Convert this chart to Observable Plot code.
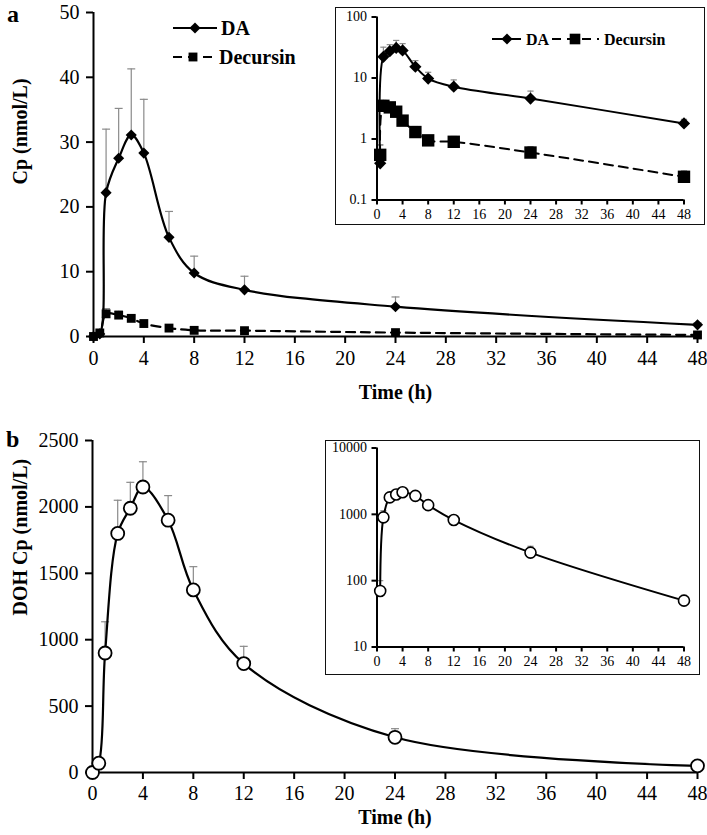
<!DOCTYPE html>
<html><head><meta charset="utf-8">
<script src="https://cdn.jsdelivr.net/npm/d3@7"></script>
<script src="https://cdn.jsdelivr.net/npm/@observablehq/plot@0.6"></script>
<style>
body{margin:0;background:#fff;}
#root{position:relative;width:707px;height:835px;font-family:"Liberation Serif","Times New Roman",serif;overflow:hidden;background:#fff;}
.inset{position:absolute;background:#fff;border:1.5px solid #111;box-sizing:border-box;}
</style></head><body><div id="root"></div>
<script>
// ---- data ----
const times    = [0, 0.5, 1, 2, 3, 4, 6, 8, 12, 24, 48];
const daMean   = [0, 0.4, 22.2, 27.5, 31.1, 28.3, 15.3, 9.8, 7.2, 4.6, 1.8];
const daUpper  = [0, 0.8, 32.0, 35.2, 41.3, 36.6, 19.3, 12.4, 9.3, 6.1, 2.1];
const decMean  = [0, 0.55, 3.5, 3.3, 2.8, 2.0, 1.3, 0.95, 0.9, 0.6, 0.24];
const decUpper = [0, 0.8, 4.3, 3.9, 3.2, 2.3, 1.6, 1.1, 1.1, 0.75, 0.3];
const dohMean  = [0, 70, 900, 1800, 1990, 2150, 1900, 1375, 820, 265, 50];
const dohUpper = [0, 100, 1135, 2050, 2185, 2340, 2085, 1550, 950, 330, 60];
const xTicks   = [0, 4, 8, 12, 16, 20, 24, 28, 32, 36, 40, 44, 48];
const yTicksA  = [0, 10, 20, 30, 40, 50];
const yTicksB  = [0, 500, 1000, 1500, 2000, 2500];
const logTicksA = [0.1, 1, 10, 100];
const logTicksB = [10, 100, 1000, 10000];
const seriesNames = ["DA", "Decursin"];
const xLabel = "Time (h)";
const yLabelA = "Cp (nmol/L)";
const yLabelB = "DOH Cp (nmol/L)";

const rows = (m, u) => times.map((t, i) => ({t, mean: m[i], upper: u[i]}));
const rDA = rows(daMean, daUpper), rDec = rows(decMean, decUpper), rDOH = rows(dohMean, dohUpper);
const pos = d => d.mean > 0;
const plain = d => String(d);

const capSymbol = {draw(ctx, size) { const w = Math.sqrt(size) / 2; ctx.moveTo(-w, 0); ctx.lineTo(w, 0); }};
const errBars = (data, capR = 4.5) => [
  Plot.ruleX(data, {x: "t", y1: "mean", y2: "upper", stroke: "#8a8a8a", strokeWidth: 1.2}),
  Plot.dot(data, {x: "t", y: "upper", symbol: capSymbol, r: capR, fill: "none", stroke: "#8a8a8a", strokeWidth: 1.2})
];
const serif = '"Liberation Serif", "Times New Roman", serif';
const root = document.getElementById("root");
function place(node, left, top) { node.style.position = "absolute"; node.style.left = left + "px"; node.style.top = top + "px"; return node; }

// ---- panel a main ----
const plotA = Plot.plot({
  width: 707, height: 420, marginLeft: 93, marginRight: 10, marginTop: 12, marginBottom: 84,
  style: {fontFamily: serif, fontSize: "20px", color: "#000", background: "transparent", overflow: "visible"},
  x: {domain: [0, 48]}, y: {domain: [0, 50]},
  marks: [
    Plot.axisX({ticks: xTicks, tickFormat: plain, tickSize: 7, tickPadding: 7, strokeWidth: 2, label: null}),
    Plot.axisY({ticks: yTicksA, tickFormat: plain, tickSize: 7, tickPadding: 7, strokeWidth: 2, label: null}),
    ...errBars(rDA.filter(pos)), ...errBars(rDec.filter(pos)),
    Plot.line(rDec, {x: "t", y: "mean", curve: "catmull-rom", strokeWidth: 2.2, strokeDasharray: "9,6"}),
    Plot.line(rDA, {x: "t", y: "mean", curve: "catmull-rom", strokeWidth: 2.2}),
    Plot.ruleX([0], {strokeWidth: 2}),
    Plot.ruleY([0], {strokeWidth: 2}),
    Plot.dot(rDec, {x: "t", y: "mean", symbol: "square", r: 5, fill: "#000", stroke: "none"}),
    Plot.dot(rDA, {x: "t", y: "mean", symbol: "diamond2", r: 5, fill: "#000", stroke: "none"}),
    Plot.text([xLabel], {text: d => d, frameAnchor: "bottom", dy: 62, fontWeight: "bold", fontSize: 20}),
    Plot.text([yLabelA], {text: d => d, frameAnchor: "left", dx: -73, dy: 10, rotate: -90, fontWeight: "bold", fontSize: 20})
  ]
});
root.appendChild(place(plotA, 0, 0));

// ---- panel b main ----
const plotB = Plot.plot({
  width: 707, height: 415, marginLeft: 92, marginRight: 10, marginTop: 20, marginBottom: 63,
  style: {fontFamily: serif, fontSize: "20px", color: "#000", background: "transparent", overflow: "visible"},
  x: {domain: [0, 48]}, y: {domain: [0, 2500]},
  marks: [
    Plot.axisX({ticks: xTicks, tickFormat: plain, tickSize: 7, tickPadding: 6, strokeWidth: 2, label: null}),
    Plot.axisY({ticks: yTicksB, tickFormat: plain, tickSize: 7, tickPadding: 7, strokeWidth: 2, label: null}),
    ...errBars(rDOH.filter(pos)),
    Plot.line(rDOH, {x: "t", y: "mean", curve: "catmull-rom", strokeWidth: 2.2}),
    Plot.ruleX([0], {strokeWidth: 2}),
    Plot.ruleY([0], {strokeWidth: 2}),
    Plot.dot(rDOH, {x: "t", y: "mean", r: 6.5, fill: "#fff", stroke: "#000", strokeWidth: 1.8}),
    Plot.text([xLabel], {text: d => d, frameAnchor: "bottom", dy: 51, fontWeight: "bold", fontSize: 20}),
    Plot.text([yLabelB], {text: d => d, frameAnchor: "left", dx: -72, dy: 9, rotate: -90, fontWeight: "bold", fontSize: 20})
  ]
});
root.appendChild(place(plotB, 0, 420));

// ---- inset a ----
const boxA = place(document.createElement("div"), 335, 7);
boxA.className = "inset"; boxA.style.width = "370px"; boxA.style.height = "218px";
const insetA = Plot.plot({
  width: 367, height: 215, marginLeft: 40.5, marginRight: 19.5, marginTop: 8.5, marginBottom: 23.5,
  style: {fontFamily: serif, fontSize: "14px", color: "#000", background: "transparent", overflow: "visible"},
  x: {domain: [0, 48]}, y: {type: "log", domain: [0.1, 100]},
  marks: [
    Plot.axisX({ticks: xTicks, tickFormat: plain, tickSize: 5, tickPadding: 4, strokeWidth: 2, label: null}),
    Plot.axisY({ticks: logTicksA, tickFormat: plain, tickSize: 5, tickPadding: 5, strokeWidth: 2, label: null}),
    ...errBars(rDA.filter(pos), 3.5), ...errBars(rDec.filter(pos), 3.5),
    Plot.line(rDec.filter(pos), {x: "t", y: "mean", curve: "catmull-rom", strokeWidth: 2, strokeDasharray: "9,6"}),
    Plot.line(rDA.filter(pos), {x: "t", y: "mean", curve: "catmull-rom", strokeWidth: 2}),
    Plot.ruleX([0], {strokeWidth: 2}),
    Plot.ruleY([0.1], {strokeWidth: 2}),
    Plot.dot(rDec.filter(pos), {x: "t", y: "mean", symbol: "square", r: 7, fill: "#000", stroke: "none"}),
    Plot.dot(rDA.filter(pos), {x: "t", y: "mean", symbol: "diamond2", r: 5.5, fill: "#000", stroke: "none"})
  ]
});
boxA.appendChild(insetA);
root.appendChild(boxA);

// ---- inset b ----
const boxB = place(document.createElement("div"), 325, 440);
boxB.className = "inset"; boxB.style.width = "375px"; boxB.style.height = "235px";
const insetB = Plot.plot({
  width: 372, height: 232, marginLeft: 50.5, marginRight: 14.5, marginTop: 6.5, marginBottom: 26.5,
  style: {fontFamily: serif, fontSize: "14px", color: "#000", background: "transparent", overflow: "visible"},
  x: {domain: [0, 48]}, y: {type: "log", domain: [10, 10000]},
  marks: [
    Plot.axisX({ticks: xTicks, tickFormat: plain, tickSize: 5, tickPadding: 4, strokeWidth: 2, label: null}),
    Plot.axisY({ticks: logTicksB, tickFormat: plain, tickSize: 5, tickPadding: 5, strokeWidth: 2, label: null}),
    ...errBars(rDOH.filter(pos), 3.5),
    Plot.line(rDOH.filter(pos), {x: "t", y: "mean", curve: "catmull-rom", strokeWidth: 2}),
    Plot.ruleX([0], {strokeWidth: 2}),
    Plot.ruleY([10], {strokeWidth: 2}),
    Plot.dot(rDOH.filter(pos), {x: "t", y: "mean", r: 5.5, fill: "#fff", stroke: "#000", strokeWidth: 1.6})
  ]
});
boxB.appendChild(insetB);
root.appendChild(boxB);

// ---- legends and panel letters (overlay) ----
const ov = d3.select(root).append("svg").attr("width", 707).attr("height", 835)
  .style("position", "absolute").style("left", "0px").style("top", "0px").style("overflow", "visible")
  .style("font-family", serif);
function legendItem(g, x0, x1, y, mx, dashed, sym, symSize, tx, label, fs) {
  g.append("line").attr("x1", x0).attr("x2", x1).attr("y1", y).attr("y2", y)
    .attr("stroke", "#000").attr("stroke-width", 2).attr("stroke-dasharray", dashed ? "9,6" : null);
  g.append("path").attr("d", d3.symbol(sym, symSize)()).attr("transform", `translate(${mx},${y})`).attr("fill", "#000");
  g.append("text").attr("x", tx).attr("y", y).attr("dy", "0.35em").attr("font-weight", "bold").attr("font-size", fs).text(label);
}
legendItem(ov, 173, 217, 28, 195, false, d3.symbolDiamond2, Math.PI * 25, 221, seriesNames[0], 20);
legendItem(ov, 173, 214, 57, 193, true, d3.symbolSquare, Math.PI * 25, 219, seriesNames[1], 20);
legendItem(ov, 492, 521, 39, 507, false, d3.symbolDiamond2, Math.PI * 25, 526, seriesNames[0], 16);
legendItem(ov, 552, 599, 39, 575, true, d3.symbolSquare, Math.PI * 36, 604, seriesNames[1], 16);
ov.append("text").attr("x", 7).attr("y", 22).attr("font-weight", "bold").attr("font-size", 24).text("a");
ov.append("text").attr("x", 6).attr("y", 447).attr("font-weight", "bold").attr("font-size", 24).text("b");
</script></body></html>
